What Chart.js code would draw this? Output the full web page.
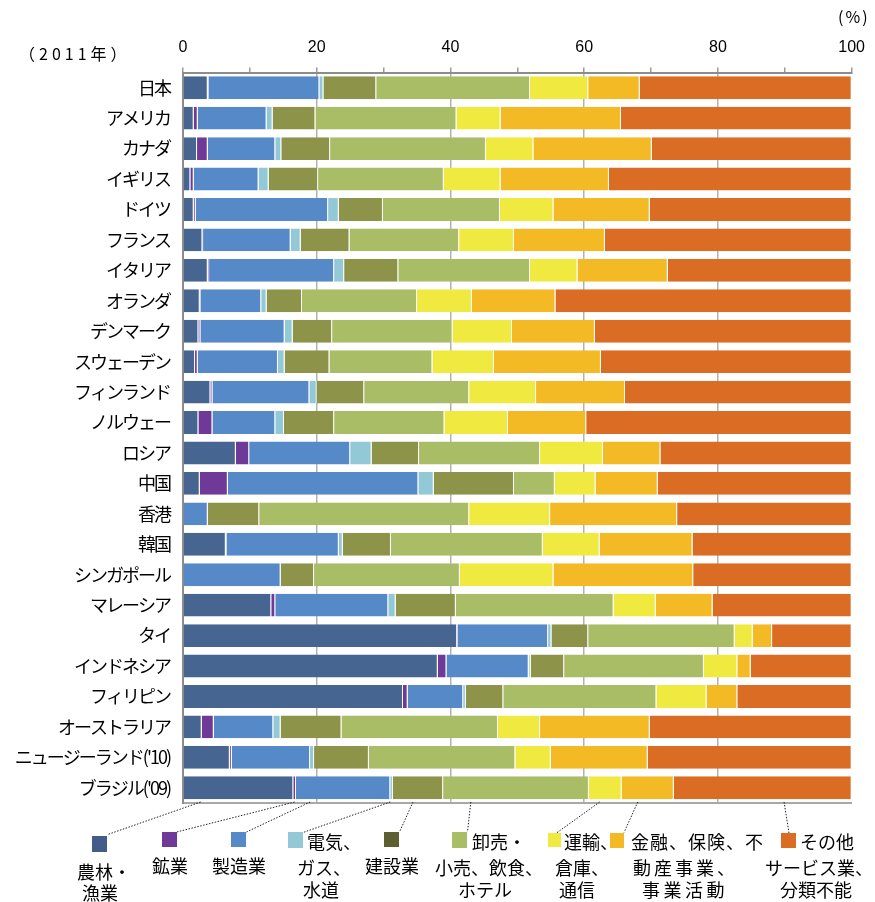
<!DOCTYPE html>
<html><head><meta charset="utf-8">
<script src="https://cdn.jsdelivr.net/npm/chart.js@4.4.1/dist/chart.umd.min.js"></script>
<style>
body{margin:0;background:#fff;}
#wrap{position:relative;width:875px;height:902px;overflow:hidden;font-family:"Noto Sans CJK JP","Noto Sans",sans-serif;color:#000;}
#c{position:absolute;left:0;top:0;}
.t{position:absolute;font-size:18px;line-height:18px;white-space:nowrap;}
.sq{position:absolute;}
</style></head><body>
<div id="wrap"><canvas id="c" width="875" height="902"></canvas></div>
<script>
const countries = ['日本','アメリカ','カナダ','イギリス','ドイツ','フランス','イタリア','オランダ','デンマーク','スウェーデン','フィンランド','ノルウェー','ロシア','中国','香港','韓国','シンガポール','マレーシア','タイ','インドネシア','フィリピン','オーストラリア',"ニュージーランド('10)","ブラジル('09)"];
const agriculture   = [3.7,1.6,2.1,1.1,1.6,2.9,3.7,2.5,2.3,1.8,4.1,2.3,7.9,2.5,0,6.4,0,13.2,41.0,38.1,32.9,2.8,7.0,16.5];
const mining        = [0.1,0.6,1.6,0.5,0.3,0.1,0.2,0.1,0.3,0.4,0.3,2.1,2.0,4.2,0,0.1,0,0.6,0.1,1.3,0.7,1.8,0.3,0.4];
const manufacturing = [16.6,10.3,10.1,9.7,19.8,13.1,18.7,9.1,12.6,12.0,14.5,9.4,15.1,28.5,3.7,16.8,14.6,16.9,13.5,12.3,8.3,8.9,11.7,14.1];
const utilities     = [0.6,0.9,0.9,1.5,1.6,1.5,1.5,0.8,1.2,1.0,1.1,1.3,3.2,2.3,0,0.6,0,1.1,0.5,0.3,0.4,1.1,0.6,0.4];
const construction  = [7.9,6.4,7.3,7.4,6.6,7.3,8.1,5.3,5.9,6.7,7.1,7.5,7.1,12.0,7.7,7.2,5.0,9.0,5.5,5.0,5.6,9.1,8.2,7.5];
const trade         = [23.0,21.1,23.3,18.8,17.5,16.4,19.7,17.2,18.0,15.4,15.7,16.5,18.1,6.1,31.4,22.7,21.8,23.6,21.9,20.9,22.9,23.4,21.9,21.8];
const transport     = [8.7,6.6,7.1,8.5,8.0,8.2,7.1,8.2,8.9,9.2,10.0,9.5,9.4,6.1,12.1,8.5,14.0,6.3,2.7,5.0,7.5,6.3,5.3,4.9];
const finance       = [7.7,18.0,17.7,16.2,14.4,13.6,13.5,12.5,12.4,16.0,13.3,11.7,8.6,9.3,19.0,13.9,20.9,8.5,2.9,2.0,4.6,16.4,14.5,7.8];
const other         = [31.7,34.5,29.9,36.3,30.2,36.9,27.5,44.3,38.4,37.5,33.9,39.7,28.6,29.0,26.1,23.8,23.7,20.8,11.9,15.1,17.1,30.2,30.5,26.6];
const seriesNames = ['農林・漁業','鉱業','製造業','電気、ガス、水道','建設業','卸売・小売、飲食、ホテル','運輸、倉庫、通信','金融、保険、不動産事業、事業活動','その他サービス業、分類不能'];
const xTicks = [0,20,40,60,80,100];

const seriesValues = [agriculture,mining,manufacturing,utilities,construction,trade,transport,finance,other];
const barColors = ['#466590','#6F3A97','#5589C8','#93C8D7','#8D944A','#A9BC66','#F0EA40','#F4BA26','#DA6C23'];
const legendColors = ['#435D8B','#6F3A97','#5589C8','#93C8D7','#5D5F31','#A9BC66','#F0EA40','#F4BA26','#DA6C23'];

const legendLayout = [
  {sq:[92,836,15,15.5], end:[107.7,834.5], frac:0.16, lines:[['農林・',77,872],['漁業',82,893]]},
  {sq:[162,832,15,15], end:[176.7,832], frac:0.5, lines:[['鉱業',152,866]]},
  {sq:[231,832,15,15], end:[246.5,832], frac:0.15, lines:[['製造業',212,866]]},
  {sq:[288,832,15,16], end:[303,832.5], frac:0.0, lines:[['電気、',307,842],['ガス、',297,868],['水道',303,890]]},
  {sq:[384,832,15,15], end:[399.5,832], frac:0.4, lines:[['建設業',365,866]]},
  {sq:[452,832,15,16], end:[467.5,832], frac:0.19, lines:[['卸売・',472,842],['小売、飲食、',435,868],['ホテル',458,890]]},
  {sq:[548,833,13,14], end:[556.5,833], frac:0.33, lines:[['運輸、',564,842],['倉庫、',555,868],['通信',559,890]]},
  {sq:[610,833,14,15], end:[624,832.5], frac:0.31, lines:[['金融、保険、不',631,842,1],['動産事業、',633,868,3],['事業活動',642,890,3.5]]},
  {sq:[781,833,15,15], end:[789,833], frac:0.62, lines:[['その他',800,842],['サービス業、',765,868],['分類不能',780,890]]}
];

const wrap = document.getElementById('wrap');
function addText(txt, left, cy, ls, size){
  const d = document.createElement('div');
  d.className = 't';
  d.textContent = txt;
  const s = size || 18;
  d.style.fontSize = s+'px'; d.style.lineHeight = s+'px';
  d.style.left = left+'px'; d.style.top = (cy - s/2 - 1)+'px';
  if (ls) d.style.letterSpacing = ls+'px';
  wrap.appendChild(d);
}
addText('（2011年）', 19, 54, 4, 16);
addText('(%)', 838, 17, 2, 16);
legendLayout.forEach((L,i)=>{
  const s = document.createElement('div');
  s.className='sq';
  s.style.left=L.sq[0]+'px'; s.style.top=L.sq[1]+'px'; s.style.width=L.sq[2]+'px'; s.style.height=L.sq[3]+'px';
  s.style.background = legendColors[i];
  wrap.appendChild(s);
  L.lines.forEach(l=>addText(l[0], l[1], l[2], l[3]));
});

const leaderPlugin = {
  id:'leaders',
  beforeDraw(chart){
    const ys = chart.scales.y;
    if (ys && !ys._lsPatched){
      const orig = ys.drawLabels.bind(ys);
      ys.drawLabels = function(a){
        const c = this.ctx; const p = c.letterSpacing;
        c.letterSpacing = '-2px';
        orig(a);
        c.letterSpacing = p || '0px';
      };
      ys._lsPatched = true;
    }
  },
  afterDraw(chart){
    const ctx = chart.ctx, xs = chart.scales.x, area = chart.chartArea;
    const last = countries.length - 1;
    let cum = 0;
    ctx.save();
    ctx.strokeStyle = '#222'; ctx.lineWidth = 1; ctx.setLineDash([1.5,1.5]);
    seriesValues.forEach((arr,i)=>{
      const v = arr[last];
      const sx = xs.getPixelForValue(cum + v*legendLayout[i].frac);
      cum += v;
      const e = legendLayout[i].end;
      ctx.beginPath(); ctx.moveTo(sx, area.bottom - 1); ctx.lineTo(e[0], e[1]); ctx.stroke();
    });
    ctx.restore();
  }
};

new Chart(document.getElementById('c'), {
  type:'bar',
  data:{
    labels: countries,
    datasets: seriesValues.map((arr,i)=>({
      label: seriesNames[i], data: arr, backgroundColor: barColors[i],
      borderColor:'rgba(255,255,255,0.85)', borderWidth:{left:0,right:1,top:0,bottom:0}, borderSkipped:false,
      categoryPercentage:1, barPercentage:0.75
    }))
  },
  options:{
    indexAxis:'y', responsive:false, animation:false, devicePixelRatio:1,
    layout:{padding:{left:0,right:18,top:0,bottom:99}},
    plugins:{legend:{display:false}, tooltip:{enabled:false}},
    scales:{
      x:{
        position:'top', stacked:true, min:0, max:100,
        ticks:{stepSize:10, autoSkip:false, maxRotation:0, color:'#000', padding:10,
          font:{family:'Liberation Sans', size:16},
          callback:v=> xTicks.includes(v) ? String(v) : ''},
        grid:{
          color: c => (c.tick && c.tick.value%20===0 && c.tick.value>0 && c.tick.value<100) ? '#b2b2b2' : 'rgba(0,0,0,0)',
          tickColor:'#9a9a9a', tickLength:5, lineWidth:1.5
        },
        border:{display:true, color:'#8c8c8c', width:2},
        afterFit: s => { s.height = 72.5; }
      },
      xb:{
        position:'bottom', axis:'x', min:0, max:100, display:true,
        ticks:{display:false}, grid:{display:false},
        border:{display:true, color:'#a8a8a8', width:2},
        afterFit: s => { s.height = 0; }
      },
      y:{
        stacked:true,
        ticks:{color:'#000', padding:5, autoSkip:false, font:{family:'Noto Sans CJK JP', size:18}},
        grid:{display:false},
        border:{display:true, color:'#8c8c8c', width:2},
        afterFit: s => { s.width = 183; }
      }
    }
  },
  plugins:[leaderPlugin]
});
</script>
</body></html>
